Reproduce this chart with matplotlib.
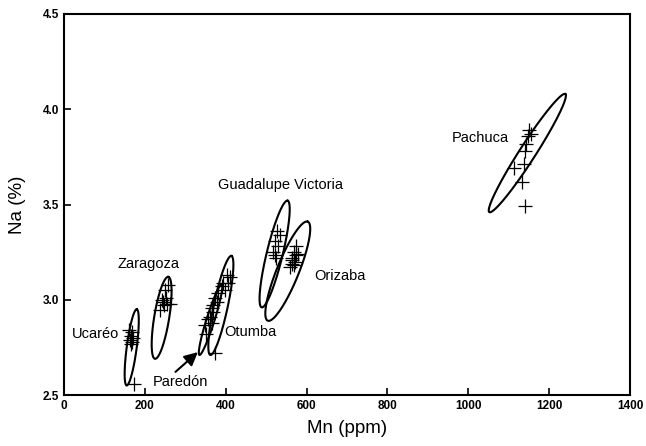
import numpy as np
import matplotlib
matplotlib.use("Agg")
import matplotlib.pyplot as plt

plt.rcParams['font.family'] = ['Liberation Sans', 'DejaVu Sans']

# Mn (ppm) and Na (%) per obsidian source
ucareo_mn = [162, 168, 165, 170, 163, 167, 166, 173]
ucareo_na = [2.84, 2.83, 2.81, 2.80, 2.79, 2.78, 2.77, 2.56]
zaragoza_mn = [257, 249, 242, 252, 254, 262, 247, 237, 245]
zaragoza_na = [3.08, 3.05, 3.00, 3.01, 2.98, 2.98, 2.97, 2.945, 2.99]
paredon_mn = [348, 352, 356]
paredon_na = [2.87, 2.82, 2.90]
otumba_mn = [402, 410, 393, 405, 390, 398, 380, 373, 378, 368, 365, 368, 360, 365, 373]
otumba_na = [3.13, 3.12, 3.09, 3.09, 3.07, 3.05, 3.035, 3.01, 2.99, 2.97, 2.955, 2.935, 2.91, 2.88, 2.72]
gv_mn = [527, 535, 522, 530, 516, 521, 525]
gv_na = [3.36, 3.34, 3.31, 3.28, 3.25, 3.235, 3.22]
orizaba_mn = [575, 570, 578, 565, 575, 563, 565, 558, 570, 572]
orizaba_na = [3.28, 3.25, 3.24, 3.22, 3.235, 3.21, 3.19, 3.17, 3.18, 3.20]
pachuca_mn = [1151, 1155, 1148, 1143, 1141, 1138, 1114, 1133, 1141]
pachuca_na = [3.89, 3.87, 3.86, 3.82, 3.78, 3.71, 3.69, 3.62, 3.49]

# ellipse: major-axis end points (Mn, Na) and half width in pixels
ellipses = [
    ((155, 2.55), (180, 2.95), 5),
    ((225, 2.69), (258, 3.12), 7.5),
    ((335, 2.71), (390, 3.08), 4),
    ((362, 2.71), (414, 3.23), 7),
    ((489, 2.96), (553, 3.52), 8),
    ((504, 2.89), (603, 3.41), 11),
    ((1052, 3.46), (1240, 4.08), 8),
]

labels = [
    ("Ucaréo", 20, 2.82),
    ("Zaragoza", 133, 3.19),
    ("Otumba", 397, 2.83),
    ("Guadalupe Victoria", 380, 3.60),
    ("Orizaba", 620, 3.125),
    ("Pachuca", 960, 3.85),
]

fig = plt.figure(figsize=(6.46, 4.46), dpi=100)
ax = fig.add_axes([64 / 646, 1 - 395 / 446, 566 / 646, 381 / 446])
ax.set_xlim(0, 1400)
ax.set_ylim(2.5, 4.5)

groups = [(ucareo_mn, ucareo_na), (zaragoza_mn, zaragoza_na), (paredon_mn, paredon_na),
          (otumba_mn, otumba_na), (gv_mn, gv_na), (orizaba_mn, orizaba_na),
          (pachuca_mn, pachuca_na)]
for mn, na in groups:
    ax.plot(mn, na, '+', color='black', markersize=10, markeredgewidth=0.9)

# draw ellipses in display space so they look right on unequal axes
t = np.linspace(0, 2 * np.pi, 200)
for p1, p2, hw in ellipses:
    a = ax.transData.transform(p1)
    b = ax.transData.transform(p2)
    c = (a + b) / 2
    u = (b - a) / 2
    v = np.array([-u[1], u[0]]) / np.hypot(*u) * hw
    pts = c + np.outer(np.cos(t), u) + np.outer(np.sin(t), v)
    d = ax.transData.inverted().transform(pts)
    ax.plot(d[:, 0], d[:, 1], color='black', lw=1.5)

for txt, x, y in labels:
    ax.text(x, y, txt, fontsize=10.5, va='center', ha='left')

ax.annotate("Paredón", xy=(331, 2.725), xytext=(220, 2.57), fontsize=10.5,
            va='center', ha='left',
            arrowprops=dict(arrowstyle='-|>', color='black', lw=1.5,
                            mutation_scale=20, shrinkA=0, shrinkB=0,
                            relpos=(0.35, 1.0)))

ax.set_xticks([0, 200, 400, 600, 800, 1000, 1200, 1400])
ax.set_yticks([2.5, 3.0, 3.5, 4.0, 4.5])
ax.set_yticklabels(["2.5", "3.0", "3.5", "4.0", "4.5"])
ax.tick_params(direction='in', length=5, width=1.2, labelsize=8.5)
for lab in ax.get_xticklabels() + ax.get_yticklabels():
    lab.set_fontweight('bold')
for s in ax.spines.values():
    s.set_linewidth(1.5)

ax.set_xlabel("Mn (ppm)", fontsize=13.5, labelpad=6)
ax.set_ylabel("Na (%)", fontsize=13.5, labelpad=12)

fig.savefig("out.png", dpi=100)
